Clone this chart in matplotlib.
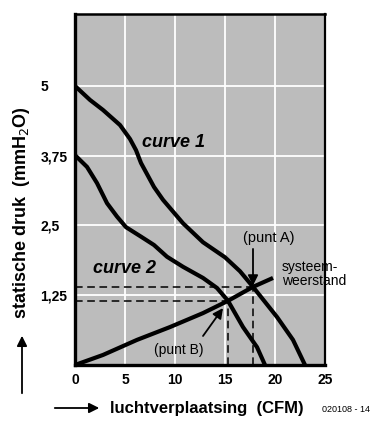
import matplotlib
matplotlib.use("Agg")
import matplotlib.pyplot as plt

# Data
curve1_x = [0, 1.5, 2.8, 4.5, 5.5, 6.1, 6.6, 7.9, 8.8, 10.8, 12.8, 15.0, 16.5, 17.8, 20.2, 21.8, 23.0]
curve1_y = [5.0, 4.75, 4.57, 4.3, 4.05, 3.85, 3.62, 3.19, 2.96, 2.54, 2.2, 1.93, 1.68, 1.40, 0.86, 0.45, 0.0]

curve2_x = [0, 1.2, 2.2, 3.2, 4.2, 5.1, 6.6, 7.9, 9.2, 10.8, 12.8, 14.2, 15.3, 16.8, 18.2, 19.0]
curve2_y = [3.76, 3.55, 3.26, 2.9, 2.66, 2.47, 2.3, 2.15, 1.94, 1.76, 1.56, 1.38, 1.15, 0.68, 0.32, 0.0]

system_x = [0, 2.8, 6.2, 9.5, 12.8, 15.3, 17.8, 19.8]
system_y = [0, 0.18, 0.45, 0.68, 0.93, 1.15, 1.40, 1.56]

point_a = (17.8, 1.40)
point_b = (15.3, 1.15)

x_ticks = [0, 5, 10, 15, 20, 25]
x_tick_labels = ["0", "5", "10", "15", "20", "25"]
y_ticks = [1.25, 2.5, 3.75, 5]
y_tick_labels = ["1,25", "2,5", "3,75", "5"]

plt.rcParams['font.family'] = ['Liberation Sans', 'DejaVu Sans']

fig = plt.figure(figsize=(3.9, 4.32), dpi=100)
ax = fig.add_axes([75/390, 1-365/432, 250/390, (365-14)/432])
ax.set_facecolor('#bcbcbc')
ax.set_xlim(0, 25)
ax.set_ylim(0, 6.29)

ax.set_xticks(x_ticks)
ax.set_xticklabels(x_tick_labels, fontsize=10, fontweight='bold')
ax.set_yticks(y_ticks)
ax.set_yticklabels(y_tick_labels, fontsize=10, fontweight='bold', ha='left')
ax.tick_params(axis='y', length=0, pad=25)
ax.tick_params(axis='x', length=0, pad=6)
ax.grid(True, color='white', linewidth=1.3)
ax.set_axisbelow(True)

for side, lw in [('left', 2.4), ('bottom', 2.4), ('top', 1.8), ('right', 1.6)]:
    ax.spines[side].set_linewidth(lw)
    ax.spines[side].set_color('black')

# dashed guide lines
for (px, py) in [point_a, point_b]:
    ax.plot([0, px], [py, py], color='black', lw=1.1, ls=(0, (5, 3)), zorder=3)
    ax.plot([px, px], [0, py], color='black', lw=1.1, ls=(0, (5, 3)), zorder=3)

for xs, ys in [(curve1_x, curve1_y), (curve2_x, curve2_y), (system_x, system_y)]:
    ax.plot(xs, ys, color='black', lw=3.0, solid_capstyle='butt',
            solid_joinstyle='round', zorder=4)

ax.text(6.7, 3.98, "curve 1", fontsize=13, fontweight='bold', fontstyle='italic', va='center', ha='left')
ax.text(1.8, 1.73, "curve 2", fontsize=13, fontweight='bold', fontstyle='italic', va='center', ha='left')

ax.text(19.4, 2.27, "(punt A)", fontsize=10.5, ha='center', va='center')
ax.annotate("", xy=point_a, xytext=(17.8, 2.08),
            arrowprops=dict(arrowstyle='-|>', color='black', lw=1.3, mutation_scale=15,
                            shrinkA=0, shrinkB=1))
ax.text(10.4, 0.27, "(punt B)", fontsize=10, ha='center', va='center')
ax.annotate("", xy=(14.8, 1.02), xytext=(12.8, 0.52),
            arrowprops=dict(arrowstyle='-|>', color='black', lw=1.3, mutation_scale=15,
                            shrinkA=0, shrinkB=0))

fig.text(282/390, 1-274/432, "systeem-\nweerstand", fontsize=10, ha='left', va='center',
         linespacing=1.05)

# axis labels with arrows
fig.text(110/390, 1-408/432, "luchtverplaatsing  (CFM)", fontsize=12, fontweight='bold',
         ha='left', va='center')
fig.text(322/390, 1-409/432, "020108 - 14", fontsize=6.5, ha='left', va='center')
fig.text(22/390, 1-213/432, "statische druk  (mmH$_2$O)", fontsize=13, fontweight='bold',
         rotation=90, ha='center', va='center')

fig.patches.append(matplotlib.patches.FancyArrowPatch(
    (52/390, 1-408/432), (102/390, 1-408/432), transform=fig.transFigure,
    arrowstyle='-|>', mutation_scale=15, color='black', lw=1.3))
fig.patches.append(matplotlib.patches.FancyArrowPatch(
    (22/390, 1-396/432), (22/390, 1-333/432), transform=fig.transFigure,
    arrowstyle='-|>', mutation_scale=15, color='black', lw=1.3))

fig.savefig("out.png", dpi=100, facecolor='white')
